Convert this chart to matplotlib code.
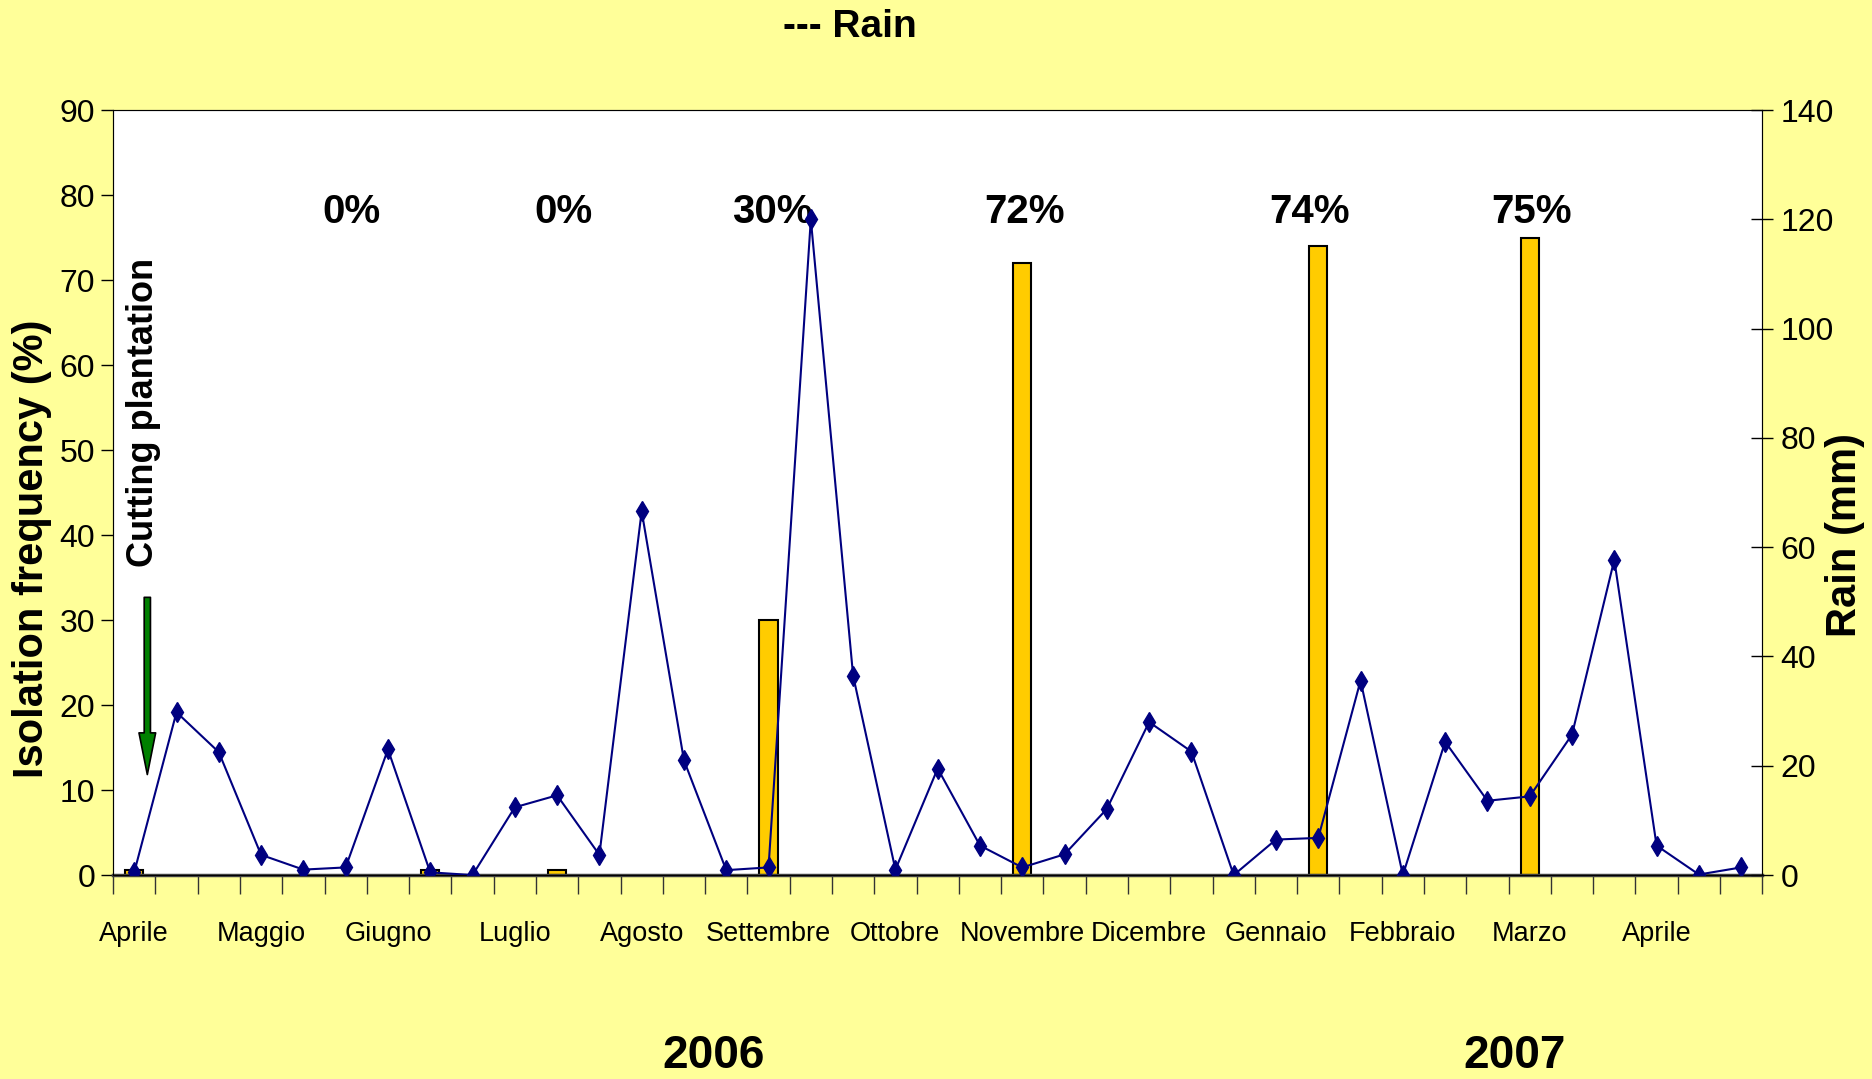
import matplotlib.pyplot as plt
import numpy as np

plt.rcParams["font.family"] = ["Liberation Sans", "DejaVu Sans"]

# rain (mm), one value per sampling date (right axis)
rain_mm = [0.5, 29.8, 22.5, 3.7, 1.0, 1.4, 23.0, 0.5, 0.0, 12.4, 14.6, 3.7,
           66.6, 21.0, 0.9, 1.4, 120.0, 36.5, 1.0, 19.5, 5.4, 1.4, 3.8, 12.1,
           28.0, 22.6, 0.0, 6.5, 6.8, 35.6, 0.0, 24.4, 13.6, 14.4, 25.7,
           57.7, 5.4, 0.1, 1.4]

# isolation frequency (%) bars
bar_pos = [0, 7, 10, 15, 21, 28, 33]
bar_vals = [0.6, 0.6, 0.6, 30, 72, 74, 75]

# percentage labels above the chart
pct_labels = ["0%", "0%", "30%", "72%", "74%", "75%"]
pct_pos = [5.15, 10.15, 15.1, 21.05, 27.8, 33.05]

months = ["Aprile", "Maggio", "Giugno", "Luglio", "Agosto", "Settembre", "Ottobre",
          "Novembre", "Dicembre", "Gennaio", "Febbraio", "Marzo", "Aprile"]

BG = "#FFFF99"
x = np.arange(len(rain_mm))

fig = plt.figure(figsize=(18.72, 10.79), dpi=100, facecolor=BG)
ax = fig.add_axes([0.0604, 0.189, 0.881, 0.709])
ax.set_facecolor("white")

ax.bar(bar_pos, bar_vals, width=0.43, color="#FFCC00", edgecolor="black", linewidth=1.5, zorder=2)
ax.set_xlim(-0.5, len(x) - 0.5)
ax.set_ylim(0, 90)
ax.set_yticks(np.arange(0, 91, 10))
ax.tick_params(axis="y", direction="out", length=9, width=1, labelsize=23, pad=4)
ax.set_ylabel("Isolation frequency (%)", fontsize=30, fontweight="bold")
ax.yaxis.set_label_coords(-0.037, 0.426)

# category boundaries as ticks, month names in between
ax.set_xticks(np.arange(-0.5, len(x), 1.0))
ax.set_xticklabels([])
ax.set_xticks(np.arange(0, len(x), 3), minor=True)
ax.set_xticklabels(months, minor=True, fontsize=19.5)
ax.tick_params(axis="x", which="major", direction="out", length=14, width=1, color="#333333")
ax.tick_params(axis="x", which="minor", length=0, pad=33)

for s in ["left", "top", "right"]:
    ax.spines[s].set_color("#555555")
ax.spines["bottom"].set_color("#444444")
ax.spines["bottom"].set_linewidth(2.5)

ax2 = ax.twinx()
ax2.plot(x, rain_mm, color="#000080", linewidth=1.5, marker="d", markersize=10,
         markerfacecolor="#000080", markeredgecolor="#000080", zorder=3)
ax2.set_ylim(0, 140)
ax2.set_yticks(np.arange(0, 141, 20))
ax2.tick_params(axis="y", direction="inout", length=16, width=1, labelsize=23, pad=5)
ax2.set_ylabel("Rain (mm)", fontsize=30, fontweight="bold")
ax2.yaxis.set_label_coords(1.038, 0.445)
ax2.spines["right"].set_color("black")

for lab, p in zip(pct_labels, pct_pos):
    ax.text(p, 78.0, lab, ha="center", va="center", fontsize=29, fontweight="bold", zorder=5)

ax.text(0.23, 54.4, "Cutting plantation", rotation=90, ha="center", va="center",
        fontsize=26, fontweight="bold")
ax.annotate("", xy=(0.31, 11.5), xytext=(0.31, 33),
            arrowprops=dict(arrowstyle="simple,head_width=1.2,head_length=3.0,tail_width=0.45",
                            facecolor="#008000", edgecolor="black", linewidth=1.2))

fig.text(0.454, 0.975, "--- Rain", ha="center", va="center", fontsize=28, fontweight="bold")
fig.text(0.381, 0.021, "2006", ha="center", va="center", fontsize=33, fontweight="bold")
fig.text(0.809, 0.021, "2007", ha="center", va="center", fontsize=33, fontweight="bold")

fig.savefig("out.png", dpi=100, facecolor=BG)
